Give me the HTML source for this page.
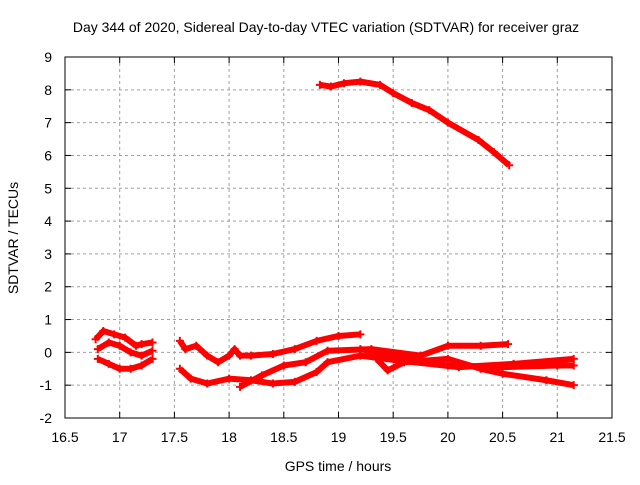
<!DOCTYPE html>
<html><head><meta charset="utf-8"><style>
body{margin:0;background:#fff}
svg text{font-family:"Liberation Sans",sans-serif;font-size:14px;fill:#000}
</style></head><body>
<svg id="c" width="640" height="480"></svg>
<script>
const xTicks=[16.5,17,17.5,18,18.5,19,19.5,20,20.5,21,21.5];
const xTickLabels=["16.5","17","17.5","18","18.5","19","19.5","20","20.5","21","21.5"];
const yTicks=[-2,-1,0,1,2,3,4,5,6,7,8,9];
const yTickLabels=["-2","-1","0","1","2","3","4","5","6","7","8","9"];
const s1h=[18.83,18.93,19.05,19.2,19.38,19.5,19.67,19.83,20.0,20.28,20.42,20.56];
const s1v=[8.15,8.1,8.2,8.25,8.15,7.9,7.6,7.38,7.0,6.47,6.1,5.7];
const s2h=[16.78,16.85,16.95,17.05,17.15,17.2,17.3];
const s2v=[0.4,0.65,0.55,0.45,0.2,0.25,0.3];
const s3h=[16.8,16.9,17.0,17.1,17.2,17.3];
const s3v=[0.1,0.3,0.2,0.0,-0.1,0.05];
const s4h=[16.8,16.9,17.0,17.1,17.2,17.3];
const s4v=[-0.2,-0.35,-0.5,-0.5,-0.4,-0.2];
const s5h=[17.55,17.6,17.7,17.8,17.9,18.0,18.05,18.1,18.2,18.4,18.6,18.8,19.0,19.2];
const s5v=[0.35,0.1,0.2,-0.1,-0.3,-0.1,0.1,-0.1,-0.1,-0.05,0.1,0.35,0.5,0.55];
const s6h=[18.1,18.3,18.5,18.7,18.9,19.3,19.75,20.0,20.3,20.55];
const s6v=[-1.05,-0.7,-0.4,-0.3,0.05,0.1,-0.1,0.2,0.2,0.25];
const s7h=[17.55,17.65,17.8,18.0,18.2,18.4,18.6,18.8,18.9,19.2,19.55,20.1,20.6,21.15];
const s7v=[-0.5,-0.8,-0.95,-0.8,-0.85,-0.95,-0.9,-0.6,-0.3,-0.1,-0.25,-0.45,-0.35,-0.2];
const s8h=[19.35,19.45,19.6,20.0,20.3,20.5,20.9,21.15];
const s8v=[-0.2,-0.55,-0.3,-0.2,-0.5,-0.65,-0.85,-1.0];
const s9h=[19.2,19.6,20.0,20.5,21.0,21.15];
const s9v=[0.1,-0.2,-0.4,-0.45,-0.4,-0.4];
const series=[[s1h,s1v],[s2h,s2v],[s3h,s3v],[s4h,s4v],[s5h,s5v],[s6h,s6v],[s7h,s7v],[s8h,s8v],[s9h,s9v]];
const L=65,R=612,T=57,B=418;
const X=h=>L+(h-16.5)/5*(R-L);
const Y=v=>B-(v+2)/11*(B-T);
const svg=document.getElementById('c');
const NS="http://www.w3.org/2000/svg";
function mk(t,a,p){const e=document.createElementNS(NS,t);for(const k in a)e.setAttribute(k,a[k]);(p||svg).appendChild(e);return e;}
const grid=mk('g',{stroke:'#a0a0a0','stroke-dasharray':'3,3','stroke-width':1});


xTicks.forEach((t,i)=>{if(i>0&&i<xTicks.length-1)mk('line',{x1:X(t),x2:X(t),y1:T,y2:B},grid);
 mk('line',{x1:X(t),x2:X(t),y1:B,y2:B-6,stroke:'#000'});mk('line',{x1:X(t),x2:X(t),y1:T,y2:T+6,stroke:'#000'});
 const tx=mk('text',{x:X(t),y:442,'text-anchor':'middle'});tx.textContent=xTickLabels[i];
 
 });
yTicks.forEach((t,i)=>{if(i>0&&i<yTicks.length-1)mk('line',{x1:L,x2:R,y1:Y(t),y2:Y(t)},grid);
 mk('line',{x1:L,x2:L+6,y1:Y(t),y2:Y(t),stroke:'#000'});mk('line',{x1:R,x2:R-6,y1:Y(t),y2:Y(t),stroke:'#000'});
 const tx=mk('text',{x:52,y:Y(t)+5,'text-anchor':'end'});tx.textContent=yTickLabels[i];
 
 });
const fr=mk('rect',{x:L,y:T,width:R-L,height:B-T,fill:'none',stroke:'#000','stroke-width':1});


series.forEach(([hs,vs],si)=>{
 const g=mk('g',{});
 
 
 mk('polyline',{points:hs.map((h,i)=>X(h)+','+Y(vs[i])).join(' '),fill:'none',stroke:'#f00','stroke-width':6,'stroke-linejoin':'round'},g);
 hs.forEach((h,i)=>{const x=X(h),y=Y(vs[i]);
  const p=mk('path',{d:`M${x-4},${y}h8M${x},${y-4}v8`,stroke:'#f00','stroke-width':2},g);
  
  });
});
const t1=mk('text',{x:326,y:32,'text-anchor':'middle'});t1.textContent="Day 344 of 2020, Sidereal Day-to-day VTEC variation (SDTVAR) for receiver graz";


const t2=mk('text',{x:338,y:471,'text-anchor':'middle'});t2.textContent="GPS time / hours";


const t3=mk('text',{x:0,y:0,'text-anchor':'middle',transform:'translate(18,238) rotate(-90)'});t3.textContent="SDTVAR / TECUs";


</script>
</body></html>
